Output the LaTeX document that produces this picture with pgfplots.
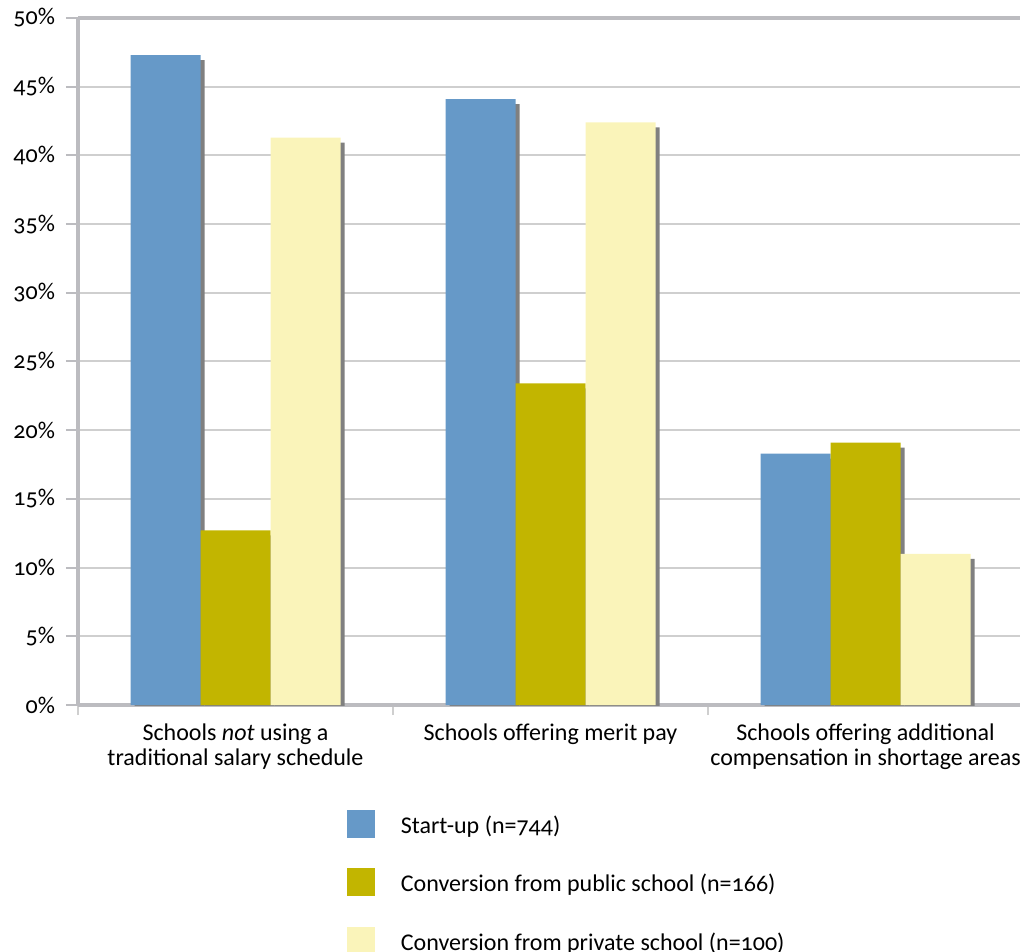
\documentclass[border=0pt]{standalone}
\usepackage{fontspec}
\setmainfont{Carlito}[Numbers=OldStyle]
\usepackage{pgfplots}
\pgfplotsset{compat=1.18}
\definecolor{cblue}{HTML}{6699C8}
\definecolor{colive}{HTML}{C2B500}
\definecolor{cyellow}{HTML}{FAF4BA}
\definecolor{cshadow}{HTML}{808080}
\definecolor{caxis}{HTML}{BCBCC0}
\definecolor{cgrid}{HTML}{CFCFCF}
\begin{document}
\begin{tikzpicture}
\begin{axis}[
  at={(0,0)}, anchor=south west,
  scale only axis, width=472.5pt, height=343.5pt,
  ybar=0pt, bar width=35pt,
  ymin=0, ymax=50, xmin=-0.5, xmax=2.5,
  axis x line*=box, axis y line*=left,
  axis line style={caxis, line width=2pt},
  /pgf/number format/assume math mode=true,
  tick align=outside,
  major tick length=6pt,
  ytick={0,5,...,50},
  yticklabel={\pgfmathprintnumber{\tick}\%},
  ytick style={caxis, line width=1pt},
  xtick={0,1,2},
  xtick pos=bottom,
  major x tick style={draw=none},
  minor xtick={-0.5,0.5,1.5,2.5},
  minor tick length=5pt,
  minor x tick style={cgrid, line width=1pt},
  xticklabels={{Schools \textit{not} using a\\traditional salary schedule},{Schools offering merit pay},{Schools offering additional\\compensation in shortage areas}},
  xticklabel style={align=center, font=\fontsize{12pt}{12.5pt}\selectfont},
  yticklabel style={font=\fontsize{12pt}{12.5pt}\selectfont, xshift=-2pt},
  ymajorgrids,
  major grid style={cgrid, line width=1pt},
  legend style={at={(axis description cs:0.2847,-0.1528)}, anchor=north west,
    draw=none, fill=none, inner sep=0pt, outer sep=0pt,
    row sep=15pt, column sep=13pt,
    font=\fontsize{12pt}{12.5pt}\selectfont,
    nodes={inner sep=0pt, text height=9pt, text depth=2.5pt}},
  legend cell align=left,
]
\addplot[forget plot, fill=cblue, draw=none, bar shift=-35pt,
  preaction={fill=cshadow, transform canvas={xshift=2pt, yshift=-2.5pt}}]
  coordinates {(0,47.3) (1,44.1) (2,18.3)};
\addplot[forget plot, fill=colive, draw=none, bar shift=0pt,
  preaction={fill=cshadow, transform canvas={xshift=2pt, yshift=-2.5pt}}]
  coordinates {(0,12.7) (1,23.4) (2,19.1)};
\addplot[forget plot, fill=cyellow, draw=none, bar shift=35pt,
  preaction={fill=cshadow, transform canvas={xshift=2pt, yshift=-2.5pt}}]
  coordinates {(0,41.3) (1,42.4) (2,11.0)};
\addlegendimage{legend image code/.code={\fill[cblue] (0pt,-5.25pt) rectangle (13.5pt,8.25pt);}}
\addlegendentry{Start-up (n=744)}
\addlegendimage{legend image code/.code={\fill[colive] (0pt,-5.25pt) rectangle (13.5pt,8.25pt);}}
\addlegendentry{Conversion from public school (n=166)}
\addlegendimage{legend image code/.code={\fill[cyellow] (0pt,-5.25pt) rectangle (13.5pt,8.25pt);}}
\addlegendentry{Conversion from private school (n=100)}
\end{axis}
\pgfresetboundingbox
\path[use as bounding box] (-39pt,-123pt) rectangle (471pt,352.5pt);
\end{tikzpicture}
\end{document}
